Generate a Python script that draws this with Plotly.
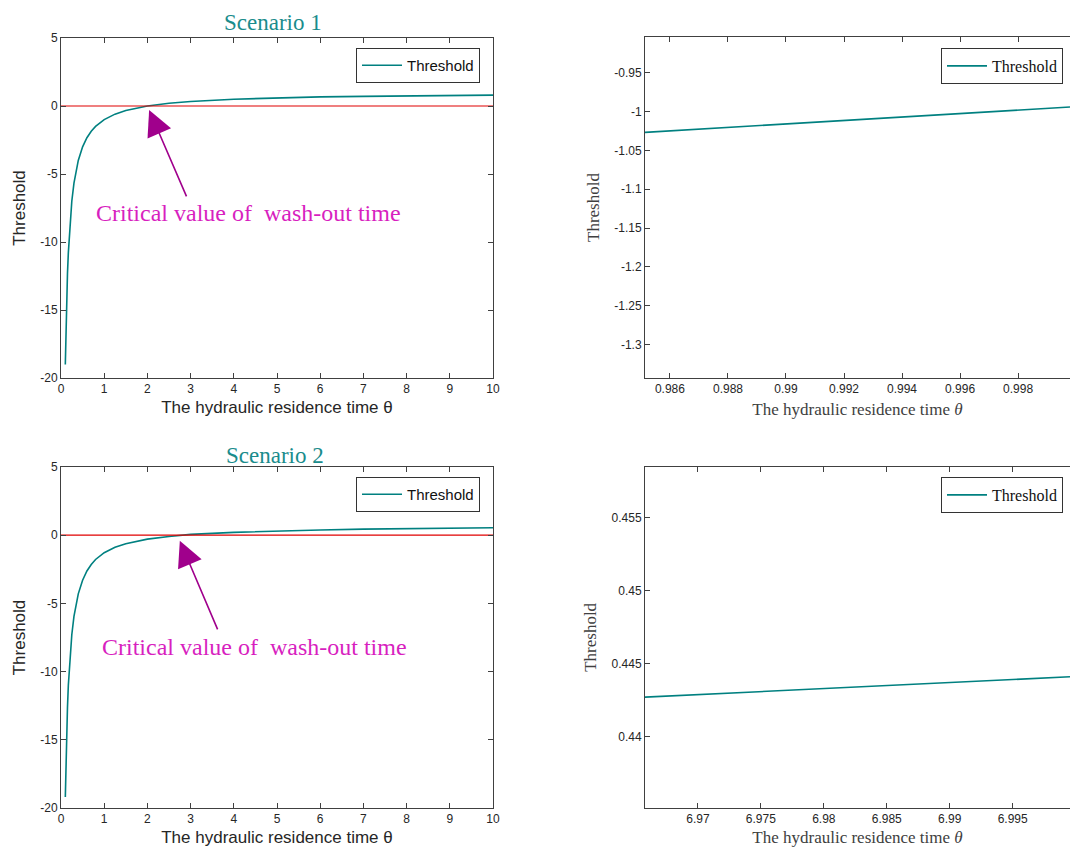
import plotly.graph_objects as go

# ---------------- data ----------------
theta_full = [0.1, 0.11, 0.12, 0.13, 0.15, 0.17, 0.2, 0.25, 0.3, 0.35, 0.4, 0.5, 0.6, 0.7, 0.8,
              1.0, 1.25, 1.5, 2.0, 2.5, 3.0, 4.0, 5.0, 6.0, 7.0, 8.0, 9.0, 10.0]
thr_s1 = [-19.0, -17.2, -15.7, -14.4, -12.3, -10.8, -9.0, -7.0, -5.67, -4.71, -4.0, -3.0, -2.33,
          -1.86, -1.5, -1.0, -0.6, -0.33, 0.0, 0.2, 0.33, 0.5, 0.6, 0.67, 0.71, 0.75, 0.78, 0.8]
thr_s2 = [-19.2, -17.4, -15.9, -14.6, -12.6, -11.0, -9.3, -7.3, -5.95, -4.98, -4.3, -3.3, -2.62,
          -2.15, -1.78, -1.28, -0.89, -0.62, -0.29, -0.09, 0.06, 0.21, 0.31, 0.38, 0.443, 0.48,
          0.52, 0.55]
zero_line_x = [0.0, 10.0]
zero_line_y = [0.0, 0.0]

theta_zoom1 = [0.98514, 0.9925, 0.99979]
thr_zoom1 = [-1.0268, -1.0105, -0.9942]
theta_zoom2 = [6.9658, 6.9827, 6.99955]
thr_zoom2 = [0.4427, 0.4434, 0.4441]

left_xticks = [0, 1, 2, 3, 4, 5, 6, 7, 8, 9, 10]
left_xlabels = ["0", "1", "2", "3", "4", "5", "6", "7", "8", "9", "10"]
left_yticks = [-20, -15, -10, -5, 0, 5]
left_ylabels = ["-20", "-15", "-10", "-5", "0", "5"]
r1_xticks = [0.986, 0.988, 0.99, 0.992, 0.994, 0.996, 0.998]
r1_xlabels = ["0.986", "0.988", "0.99", "0.992", "0.994", "0.996", "0.998"]
r1_yticks = [-1.3, -1.25, -1.2, -1.15, -1.1, -1.05, -1.0, -0.95]
r1_ylabels = ["-1.3", "-1.25", "-1.2", "-1.15", "-1.1", "-1.05", "-1", "-0.95"]
r2_xticks = [6.97, 6.975, 6.98, 6.985, 6.99, 6.995]
r2_xlabels = ["6.97", "6.975", "6.98", "6.985", "6.99", "6.995"]
r2_yticks = [0.44, 0.445, 0.45, 0.455]
r2_ylabels = ["0.44", "0.445", "0.45", "0.455"]

TEAL = "#008080"
SANS = "Liberation Sans, Arial, sans-serif"
SERIF = "Liberation Serif, Times New Roman, serif"
TICKC = "#262626"
W, H = 1070, 847

def px(xp):
    return xp / W

def py(yp):
    return 1 - yp / H

fig = go.Figure()

fig.add_trace(go.Scatter(x=theta_full, y=thr_s1, mode="lines", line=dict(color=TEAL, width=1.6),
                         name="Threshold", xaxis="x", yaxis="y", legend="legend"))
fig.add_trace(go.Scatter(x=zero_line_x, y=zero_line_y, mode="lines", line=dict(color="#e00000", width=1.2),
                         showlegend=False, xaxis="x", yaxis="y"))
fig.add_trace(go.Scatter(x=theta_zoom1, y=thr_zoom1, mode="lines", line=dict(color=TEAL, width=1.6),
                         name="Threshold", xaxis="x2", yaxis="y2", legend="legend2"))
fig.add_trace(go.Scatter(x=theta_full, y=thr_s2, mode="lines", line=dict(color=TEAL, width=1.6),
                         name="Threshold", xaxis="x3", yaxis="y3", legend="legend3"))
fig.add_trace(go.Scatter(x=zero_line_x, y=zero_line_y, mode="lines", line=dict(color="#e00000", width=1.2),
                         showlegend=False, xaxis="x3", yaxis="y3"))
fig.add_trace(go.Scatter(x=theta_zoom2, y=thr_zoom2, mode="lines", line=dict(color=TEAL, width=1.6),
                         name="Threshold", xaxis="x4", yaxis="y4", legend="legend4"))

def ax_common():
    return dict(showline=True, linecolor="#404040", linewidth=1, ticks="inside", ticklen=5,
                tickcolor="#404040", showgrid=False, zeroline=False, automargin=False,
                tickfont=dict(family=SANS, size=12, color=TICKC))

L0, L1 = px(61), px(493)
R0, R1 = px(645), 1.0
T_top, T_bot = py(38), py(378)
B_top, B_bot = py(467), py(808)

left_x = ax_common()
left_x.update(range=[0, 10], tickvals=left_xticks, ticktext=left_xlabels, mirror="ticks")
left_y = ax_common()
left_y.update(range=[-20, 5], tickvals=left_yticks, ticktext=left_ylabels, mirror="ticks")

xt_sans = dict(text="The hydraulic residence time θ", font=dict(family=SANS, size=17, color=TICKC), standoff=5)
yt_sans = dict(text="Threshold", font=dict(family=SANS, size=17, color=TICKC), standoff=10)
xt_serif = dict(text="The hydraulic residence time <i>θ</i>", font=dict(family=SERIF, size=17, color="#404040"), standoff=7)
yt_serif = dict(text="Threshold", font=dict(family=SERIF, size=17, color="#404040"), standoff=10)

fig.update_layout(
    xaxis=dict(left_x, domain=[L0, L1], anchor="y", title=xt_sans),
    yaxis=dict(left_y, domain=[T_bot, T_top], anchor="x", title=yt_sans),
    xaxis3=dict(left_x, domain=[L0, L1], anchor="y3", title=xt_sans),
    yaxis3=dict(left_y, domain=[B_bot, B_top], anchor="x3", title=yt_sans),
)

r1x = ax_common()
r1x.update(range=[0.98514, 0.99979], tickvals=r1_xticks, ticktext=r1_xlabels, mirror="ticks")
r1y = ax_common()
r1y.update(range=[-1.343, -0.904], tickvals=r1_yticks, ticktext=r1_ylabels)
r2x = ax_common()
r2x.update(range=[6.9658, 6.99955], tickvals=r2_xticks, ticktext=r2_xlabels, mirror="ticks")
r2y = ax_common()
r2y.update(range=[0.43509, 0.45852], tickvals=r2_yticks, ticktext=r2_ylabels)

fig.update_layout(
    xaxis2=dict(r1x, domain=[R0, R1], anchor="y2", title=xt_serif),
    yaxis2=dict(r1y, domain=[T_bot, py(37)], anchor="x2", title=yt_serif),
    xaxis4=dict(r2x, domain=[R0, R1], anchor="y4", title=xt_serif),
    yaxis4=dict(r2y, domain=[B_bot, py(466.7)], anchor="x4", title=yt_serif),
)

leg_common = dict(bgcolor="white", bordercolor="#333333", borderwidth=1, xanchor="right", yanchor="top",
                  itemwidth=40, tracegroupgap=0)
fig.update_layout(
    legend=dict(leg_common, x=px(480), y=py(48), font=dict(family=SANS, size=15, color="#111111")),
    legend3=dict(leg_common, x=px(480), y=py(477), font=dict(family=SANS, size=15, color="#111111")),
    legend2=dict(leg_common, x=px(1063), y=py(48), font=dict(family=SERIF, size=16, color="#111111")),
    legend4=dict(leg_common, x=px(1063), y=py(477), font=dict(family=SERIF, size=16, color="#111111")),
)

annots = []
annots.append(dict(text="Scenario 1", x=px(273), y=py(22), xref="paper", yref="paper", showarrow=False,
                   font=dict(family=SERIF, size=23, color="#1a8c8c"), xanchor="center", yanchor="middle"))
annots.append(dict(text="Scenario 2", x=px(275), y=py(455), xref="paper", yref="paper", showarrow=False,
                   font=dict(family=SERIF, size=23, color="#1a8c8c"), xanchor="center", yanchor="middle"))
ARROW = "#a0008c"
annots.append(dict(x=2.04, y=-0.29, ax=2.92, ay=-6.76, xref="x", yref="y", axref="x", ayref="y", text="",
                   showarrow=True, arrowhead=2, arrowsize=3.2, arrowwidth=1.6, arrowcolor=ARROW, standoff=0))
annots.append(dict(x=2.75, y=-0.40, ax=3.64, ay=-7.01, xref="x3", yref="y3", axref="x3", ayref="y3", text="",
                   showarrow=True, arrowhead=2, arrowsize=3.2, arrowwidth=1.6, arrowcolor=ARROW, standoff=0))
MAG = "#d81fbf"
annots.append(dict(text="Critical value of  wash-out time", x=4.33, y=-7.87, xref="x", yref="y", showarrow=False,
                   font=dict(family=SERIF, size=24, color=MAG), xanchor="center", yanchor="middle"))
annots.append(dict(text="Critical value of  wash-out time", x=4.49, y=-8.21, xref="x3", yref="y3", showarrow=False,
                   font=dict(family=SERIF, size=24, color=MAG), xanchor="center", yanchor="middle"))

fig.update_layout(annotations=annots, width=W, height=H, margin=dict(l=0, r=0, t=0, b=0, autoexpand=False),
                  paper_bgcolor="white", plot_bgcolor="white", showlegend=True)

fig.write_html("out.html")
